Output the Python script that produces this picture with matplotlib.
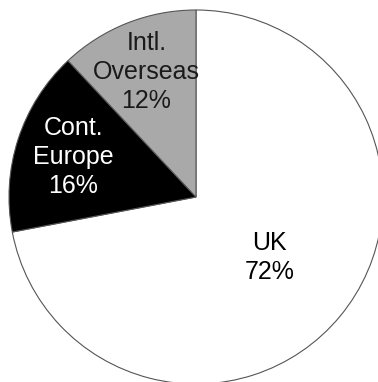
import matplotlib.pyplot as plt
import numpy as np

plt.rcParams['font.family'] = ['Liberation Sans', 'DejaVu Sans']

regions = ['UK', 'Cont.\nEurope', 'Intl.\nOverseas']
shares = [72, 16, 12]
colors = ['white', 'black', '#a9a9a9']
text_colors = ['black', 'white', '#1a1a1a']
label_dist = [0.51, 0.69, 0.72]

fig = plt.figure(figsize=(3.78, 3.82), dpi=100)
ax = fig.add_axes([0, 0, 1, 1])

wedges, _ = ax.pie(shares, colors=colors, startangle=90, counterclock=False,
                   center=(196, 185), radius=187, frame=True,
                   wedgeprops=dict(edgecolor='#555555', linewidth=0.8))

for w, name, pct, tc, d in zip(wedges, regions, shares, text_colors, label_dist):
    mid = np.deg2rad((w.theta1 + w.theta2) / 2)
    x = w.center[0] + d * w.r * np.cos(mid)
    y = w.center[1] + d * w.r * np.sin(mid)
    ax.text(x, y, '%s\n%d%%' % (name, pct), ha='center', va='center',
            fontsize=18, color=tc, linespacing=1.25)

ax.set_xlim(0, 378)
ax.set_ylim(0, 382)
ax.set_aspect('equal')
ax.axis('off')

plt.savefig('out.png', dpi=100)
